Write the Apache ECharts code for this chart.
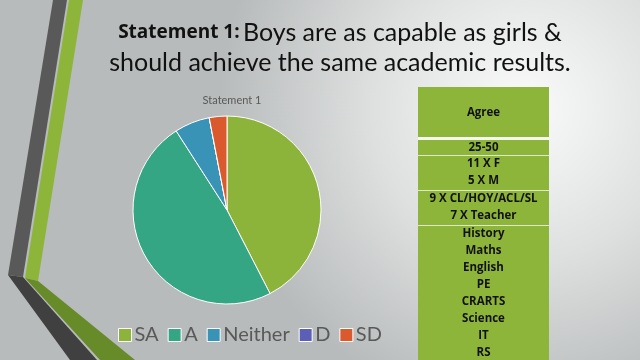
<!DOCTYPE html>
<html><head><meta charset="utf-8">
<script src="https://cdn.jsdelivr.net/npm/echarts@6/dist/echarts.min.js"></script>
<style>html,body{margin:0;padding:0;}#c{width:640px;height:360px;}</style>
</head><body><div id="c"></div>
<script>
const categories = ['SA', 'A', 'Neither', 'D', 'SD'];
const values = [14, 16, 2, 0, 1];
const colors = ['#8DB43A', '#34A683', '#3893B7', '#5B5FB5', '#DA5A2E'];
const tableHeader = 'Agree';
const tableRows = [
  ['25-50'],
  ['11 X F', '5 X M'],
  ['9 X CL/HOY/ACL/SL', '7 X Teacher'],
  ['History', 'Maths', 'English', 'PE', 'CRARTS', 'Science', 'IT', 'RS']
];

const chart = echarts.init(document.getElementById('c'));
const g = [];
// decorative stripes
g.push({type:'polygon', shape:{points:[[53,0],[67,0],[23,277],[8,275]]}, style:{fill:'#595959'}});
g.push({type:'polygon', shape:{points:[[69,0],[83,0],[38,281],[25,278]]}, style:{fill:'#8DB53A'}});
g.push({type:'polygon', shape:{points:[[8,275],[23,277],[97,360],[70,360]]}, style:{fill:'#404040'}});
g.push({type:'polygon', shape:{points:[[25,278],[38,281],[135,360],[100,360]]}, style:{fill:'#678B28'}});
// table
const tx = 418, tw = 131, cx = tx + tw/2;
const tfont = 'bold 11.5px "Open Sans", sans-serif';
g.push({type:'rect', shape:{x:tx, y:87, width:tw, height:50}, style:{fill:'#8DB53A'}});
g.push({type:'text', x:cx, y:113, style:{text:tableHeader, font:tfont, fill:'#111', align:'center', verticalAlign:'middle'}});
g.push({type:'rect', shape:{x:tx, y:137, width:tw, height:3}, style:{fill:'#F4F6F0'}});
let y = 140;
const lh = 17;
tableRows.forEach((row, i) => {
  const h = row.length * lh + (i === 0 ? -2 : 0);
  g.push({type:'rect', shape:{x:tx, y:y, width:tw, height:(i === tableRows.length-1 ? 360 - y : h)}, style:{fill:'#8DB53A'}});
  row.forEach((t, j) => {
    g.push({type:'text', x:cx, y:y + 8 + j*lh, style:{text:t, font:tfont, fill:'#111', align:'center', verticalAlign:'middle'}});
  });
  y += h;
  if (i < tableRows.length-1) g.push({type:'rect', shape:{x:tx, y:y, width:tw, height:1}, style:{fill:'#DDE8C8'}});
  y += 1;
});
// title
g.push({type:'text', x:340, y:33, style:{rich:{b:{font:'bold 19px "Open Sans", sans-serif', fill:'#111'}, r:{font:'25px "Lato", sans-serif', fill:'#111'}}, text:'{b|Statement 1:} {r|Boys are as capable as girls &}', align:'center', verticalAlign:'middle'}});
g.push({type:'text', x:340, y:63, style:{text:'should achieve the same academic results.', font:'25px "Lato", sans-serif', fill:'#111', align:'center', verticalAlign:'middle'}});

chart.setOption({
  animation:false,
  backgroundColor:{type:'radial', x:0.82, y:0.3, r:0.85, colorStops:[{offset:0,color:'#FAFAFA'},{offset:0.5,color:'#DEE0E0'},{offset:1,color:'#B8BBBB'}]},
  color: colors,
  title:{text:'Statement 1', left:227, top:90, textAlign:'center', textStyle:{fontSize:11, fontWeight:'normal', color:'#595959', fontFamily:'Lato, sans-serif'}},
  legend:{left:113, top:320, itemWidth:13, itemHeight:13, itemGap:9, icon:'rect', data:categories,
    itemStyle:{borderColor:'#fff', borderWidth:1},
    textStyle:{fontSize:20, color:'#595959', fontFamily:'Lato, sans-serif', padding:[0,0,0,-2]}},
  graphic: g,
  series:[{type:'pie', center:[227,210], radius:94, startAngle:90, clockwise:true,
    label:{show:false}, labelLine:{show:false}, emphasis:{disabled:true},
    itemStyle:{borderColor:'#fff', borderWidth:1},
    data: categories.map((c,i)=>({name:c, value:values[i]}))}]
});
</script></body></html>
